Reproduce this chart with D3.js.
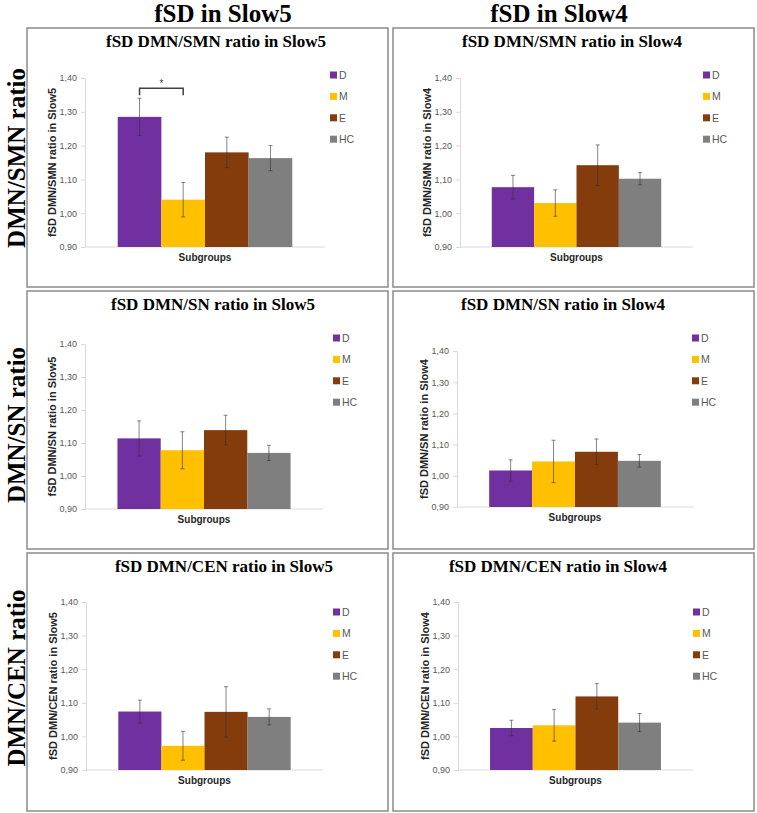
<!DOCTYPE html>
<html>
<head>
<meta charset="utf-8">
<title>fSD ratios</title>
<script src="https://cdn.jsdelivr.net/npm/d3@7"></script>
<style>
  body { margin: 0; background: #fff; }
  .tick text { font-family: 'Liberation Sans Narrow', 'Liberation Sans', Arial, sans-serif; font-size: 9px; fill: #595959; }
  .small { font-family: 'Liberation Sans Narrow', 'Liberation Sans', Arial, sans-serif; }
  .serif { font-family: 'Liberation Serif', 'Times New Roman', serif; font-weight: bold; }
</style>
</head>
<body>
<svg id="chart"></svg>
<script>
  // groups + colours
  var groups = ['D', 'M', 'E', 'HC'];
  var groupColors = ['#7030a0', '#ffc000', '#843c0c', '#7f7f7f'];
  var columnTitles = ['fSD in Slow5', 'fSD in Slow4'];
  var rowTitles = ['DMN/SMN ratio', 'DMN/SN ratio', 'DMN/CEN ratio'];
  var yTicks = [0.9, 1.0, 1.1, 1.2, 1.3, 1.4];
  var xLabel = 'Subgroups';

  // means and error bars
  var smnSlow5 = [1.285, 1.040, 1.180, 1.163];
  var smnSlow5Err = [0.055, 0.051, 0.045, 0.037];
  var smnSlow4 = [1.077, 1.030, 1.142, 1.102];
  var smnSlow4Err = [0.035, 0.039, 0.060, 0.018];
  var snSlow5 = [1.114, 1.078, 1.139, 1.070];
  var snSlow5Err = [0.053, 0.056, 0.045, 0.023];
  var snSlow4 = [1.017, 1.046, 1.077, 1.048];
  var snSlow4Err = [0.034, 0.068, 0.041, 0.020];
  var cenSlow5 = [1.074, 0.972, 1.073, 1.058];
  var cenSlow5Err = [0.034, 0.043, 0.075, 0.024];
  var cenSlow4 = [1.025, 1.033, 1.119, 1.041];
  var cenSlow4Err = [0.023, 0.047, 0.038, 0.027];

  // significance bracket (only in DMN/SMN Slow5)
  var sigPair = ['D', 'M'];
  var sigLevel = 1.37;

  var panels = [
    { title: 'fSD DMN/SMN ratio in Slow5', yTitle: 'fSD DMN/SMN ratio in Slow5', values: smnSlow5, errors: smnSlow5Err, sig: true,
      box: [27, 28, 361, 259], plot: [58, 50, 298, 219], titleX: 189, legend: [303, 47] },
    { title: 'fSD DMN/SMN ratio in Slow4', yTitle: 'fSD DMN/SMN ratio in Slow4', values: smnSlow4, errors: smnSlow4Err,
      box: [393, 28, 361, 259], plot: [67, 50, 300, 219], titleX: 179, legend: [310, 47] },
    { title: 'fSD DMN/SN ratio in Slow5', yTitle: 'fSD DMN/SN ratio in Slow5', values: snSlow5, errors: snSlow5Err,
      box: [27, 291, 361, 258], plot: [58, 53, 296, 218], titleX: 186, legend: [306, 47] },
    { title: 'fSD DMN/SN ratio in Slow4', yTitle: 'fSD DMN/SN ratio in Slow4', values: snSlow4, errors: snSlow4Err,
      box: [393, 291, 361, 258], plot: [64, 60, 300, 216], titleX: 170, legend: [299, 47] },
    { title: 'fSD DMN/CEN ratio in Slow5', yTitle: 'fSD DMN/CEN ratio in Slow5', values: cenSlow5, errors: cenSlow5Err,
      box: [27, 553, 361, 258], plot: [59, 49, 296, 217], titleX: 197, legend: [306, 59] },
    { title: 'fSD DMN/CEN ratio in Slow4', yTitle: 'fSD DMN/CEN ratio in Slow4', values: cenSlow4, errors: cenSlow4Err,
      box: [393, 553, 361, 258], plot: [65, 49, 300, 217], titleX: 165, legend: [300, 59] }
  ];

  var W = 757, H = 813;
  var svg = d3.select('#chart').attr('width', W).attr('height', H);

  var fmt = function (d) { return d3.format('.2f')(d).replace('.', ','); };

  // column headers
  svg.selectAll('.colTitle')
    .data(columnTitles)
    .enter()
    .append('text')
    .attr('class', 'serif')
    .attr('x', (d, i) => i === 0 ? 223 : 559)
    .attr('y', 22)
    .attr('text-anchor', 'middle')
    .style('font-size', '25px')
    .text(d => d);

  // row headers
  var rowCenters = [158, 425, 678];
  svg.selectAll('.rowTitle')
    .data(rowTitles)
    .enter()
    .append('text')
    .attr('class', 'serif')
    .attr('transform', (d, i) => 'translate(25,' + rowCenters[i] + ') rotate(-90)')
    .attr('text-anchor', 'middle')
    .style('font-size', '25px')
    .text(d => d);

  panels.forEach(function (p) {
    var g = svg.append('g')
      .attr('transform', 'translate(' + p.box[0] + ',' + p.box[1] + ')');

    g.append('rect')
      .attr('x', 0).attr('y', 0)
      .attr('width', p.box[2]).attr('height', p.box[3])
      .attr('fill', '#fff')
      .attr('stroke', '#8a8a8a')
      .attr('stroke-width', 1.5);

    g.append('text')
      .attr('class', 'serif')
      .attr('x', p.titleX)
      .attr('y', 19)
      .attr('text-anchor', 'middle')
      .style('font-size', '17px')
      .text(p.title);

    var left = p.plot[0], top = p.plot[1], right = p.plot[2], bottom = p.plot[3];

    var y = d3.scaleLinear().domain([0.9, 1.4]).range([bottom, top]);
    var x = d3.scaleBand()
      .domain(groups)
      .range([left, right])
      .paddingInner(0)
      .paddingOuter(0.75);

    // y axis
    var yAxis = d3.axisLeft(y)
      .tickValues(yTicks)
      .tickFormat(fmt)
      .tickSize(4)
      .tickPadding(4);
    var ya = g.append('g')
      .attr('transform', 'translate(' + left + ',0)')
      .call(yAxis);
    ya.select('.domain').attr('stroke', '#d9d9d9');
    ya.selectAll('.tick line').attr('stroke', '#d9d9d9');

    // x axis line
    g.append('line')
      .attr('x1', left).attr('x2', right)
      .attr('y1', bottom).attr('y2', bottom)
      .attr('stroke', '#d9d9d9');

    // bars
    g.selectAll('rect.bar')
      .data(p.values)
      .enter()
      .append('rect')
      .attr('class', 'bar')
      .attr('x', (d, i) => x(groups[i]))
      .attr('y', d => y(d))
      .attr('width', x.bandwidth())
      .attr('height', d => bottom - y(d))
      .attr('fill', (d, i) => groupColors[i]);

    // error bars
    var eb = g.selectAll('g.err')
      .data(p.values)
      .enter()
      .append('g')
      .attr('class', 'err')
      .attr('stroke', '#333')
      .attr('stroke-opacity', 0.75)
      .attr('stroke-width', 0.8);
    eb.append('line')
      .attr('x1', (d, i) => x(groups[i]) + x.bandwidth() / 2)
      .attr('x2', (d, i) => x(groups[i]) + x.bandwidth() / 2)
      .attr('y1', (d, i) => y(d + p.errors[i]))
      .attr('y2', (d, i) => y(d - p.errors[i]));
    [1, -1].forEach(function (s) {
      eb.append('line')
        .attr('x1', (d, i) => x(groups[i]) + x.bandwidth() / 2 - 2)
        .attr('x2', (d, i) => x(groups[i]) + x.bandwidth() / 2 + 2)
        .attr('y1', (d, i) => y(d + s * p.errors[i]))
        .attr('y2', (d, i) => y(d + s * p.errors[i]));
    });

    // y title
    g.append('text')
      .attr('class', 'small')
      .attr('transform', 'translate(' + (left - 29) + ',' + ((top + bottom) / 2) + ') rotate(-90)')
      .attr('text-anchor', 'middle')
      .style('font-size', '11px')
      .style('font-weight', 'bold')
      .attr('fill', '#262626')
      .text(p.yTitle);

    // x title
    g.append('text')
      .attr('class', 'small')
      .attr('x', (left + right) / 2)
      .attr('y', bottom + 14)
      .attr('text-anchor', 'middle')
      .style('font-size', '10px')
      .style('font-weight', 'bold')
      .attr('fill', '#262626')
      .text(xLabel);

    // legend
    var lg = g.selectAll('g.leg')
      .data(groups)
      .enter()
      .append('g')
      .attr('class', 'leg')
      .attr('transform', (d, i) => 'translate(' + p.legend[0] + ',' + (p.legend[1] + i * 21.4) + ')');
    lg.append('rect')
      .attr('x', 0).attr('y', -3.5)
      .attr('width', 7).attr('height', 7)
      .attr('fill', (d, i) => groupColors[i]);
    lg.append('text')
      .attr('class', 'small')
      .attr('x', 9)
      .attr('y', 3.8)
      .style('font-size', '10.5px')
      .attr('fill', '#595959')
      .text(d => d);

    // significance bracket
    if (p.sig) {
      var x1 = x(sigPair[0]) + x.bandwidth() / 2;
      var x2 = x(sigPair[1]) + x.bandwidth() / 2;
      var yb = y(sigLevel);
      g.append('path')
        .attr('d', 'M' + x1 + ',' + (yb + 7) + 'V' + yb + 'H' + x2 + 'V' + (yb + 7))
        .attr('fill', 'none')
        .attr('stroke', '#404040')
        .attr('stroke-width', 1.5);
      g.append('text')
        .attr('class', 'small')
        .attr('x', (x1 + x2) / 2)
        .attr('y', yb - 1)
        .attr('text-anchor', 'middle')
        .style('font-size', '10px')
        .attr('fill', '#404040')
        .text('*');
    }
  });
</script>
</body>
</html>
